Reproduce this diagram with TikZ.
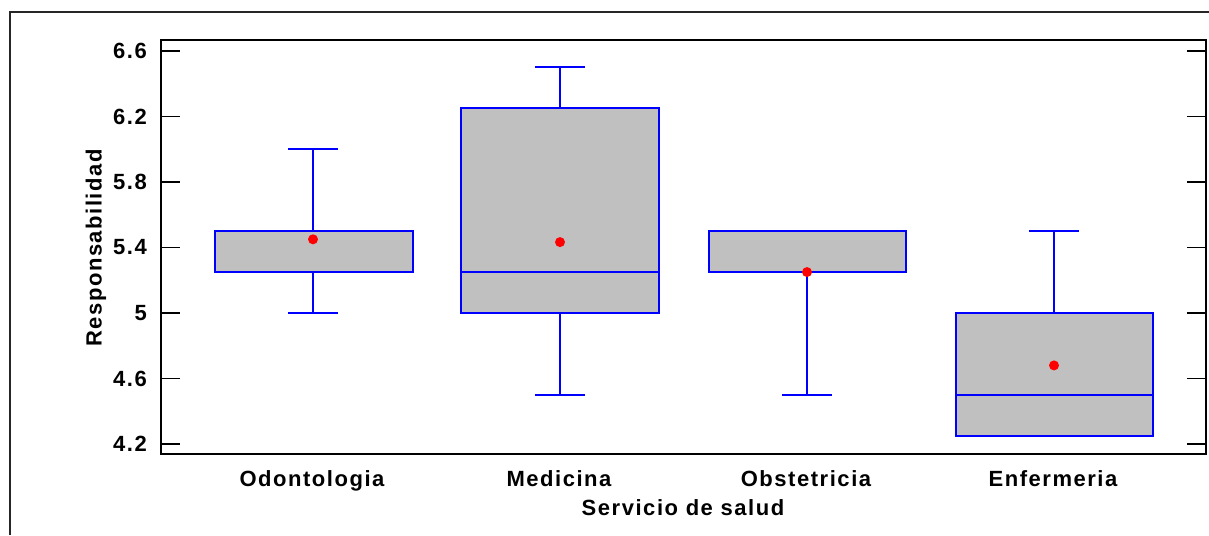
\documentclass[tikz,border=0pt]{standalone}
\usepackage{fontspec}
\setmainfont{Liberation Sans}[LetterSpace=7]
\definecolor{boxgray}{RGB}{192,192,192}
\definecolor{wblue}{RGB}{0,0,255}
\definecolor{mred}{RGB}{255,0,0}
\tikzset{
  frameline/.style={line width=2pt, black},
  outerline/.style={line width=2pt, black!85},
  tickline/.style={line width=1.8pt, black},
  boxstyle/.style={fill=boxgray, draw=wblue, line width=1.7pt},
  whisk/.style={draw=wblue, line width=1.5pt},
  capline/.style={draw=wblue, line width=1.9pt},
  meandot/.style={fill=mred},
  lbl/.style={font=\fontsize{22}{26}\selectfont\bfseries, inner sep=0pt},
}
\begin{document}
\begin{tikzpicture}[x=1pt,y=-1pt]
\useasboundingbox (0,0) rectangle (1209,535);
\fill[white] (0,0) rectangle (1209,535);
% outer frame
\draw[outerline] (10,535) -- (10,12) -- (1209,12);
% plot frame
\draw[frameline] (161,40) rectangle (1206,454);
\begin{scope}[y=163.75pt, yshift=-1131.75pt]
  % ticks and labels
  \foreach \v/\t in {6.6/6.6, 6.2/6.2, 5.8/5.8, 5.4/5.4, 5.0/5, 4.6/4.6, 4.2/4.2}{
    \draw[tickline] (161,\v) -- (180,\v);
    \draw[tickline] (1187,\v) -- (1206,\v);
    \node[lbl, anchor=east] (tk\t) at (147,\v) {\t};
  }
  % Odontologia
  \draw[whisk] (313,5.5) -- (313,6.0);
  \draw[capline] (288,6.0) -- (338,6.0);
  \draw[whisk] (313,5.25) -- (313,5.0);
  \draw[capline] (288,5.0) -- (338,5.0);
  \draw[boxstyle] (215,5.25) rectangle (413,5.5);
  \fill[meandot] (313,5.45) circle (5pt);
  % Medicina
  \draw[whisk] (560,6.25) -- (560,6.5);
  \draw[capline] (535,6.5) -- (585,6.5);
  \draw[whisk] (560,5.0) -- (560,4.5);
  \draw[capline] (535,4.5) -- (585,4.5);
  \draw[boxstyle] (461,5.0) rectangle (659,6.25);
  \draw[whisk] (461,5.25) -- (659,5.25);
  \fill[meandot] (560,5.433) circle (5pt);
  % Obstetricia
  \draw[whisk] (807,5.25) -- (807,4.5);
  \draw[capline] (782,4.5) -- (832,4.5);
  \draw[boxstyle] (709,5.25) rectangle (906,5.5);
  \fill[meandot] (807,5.25) circle (5pt);
  % Enfermeria
  \draw[whisk] (1054,5.0) -- (1054,5.5);
  \draw[capline] (1029,5.5) -- (1079,5.5);
  \draw[boxstyle] (956,4.25) rectangle (1153,5.0);
  \draw[whisk] (956,4.5) -- (1153,4.5);
  \draw[capline] (1029,4.25) -- (1079,4.25);
  \fill[meandot] (1054,4.68) circle (5pt);
\end{scope}
% category labels
\node[lbl, anchor=base] (c1) at (312,486) {Odontologia};
\node[lbl, anchor=base] (c2) at (559,486) {Medicina};
\node[lbl, anchor=base] (c3) at (806,486) {Obstetricia};
\node[lbl, anchor=base] (c4) at (1053,486) {Enfermeria};
\node[lbl, anchor=base] (xt) at (683,515) {Servicio de salud};
\node[lbl, rotate=90] (yt) at (96,248) {Responsabilidad};
\end{tikzpicture}
\end{document}
